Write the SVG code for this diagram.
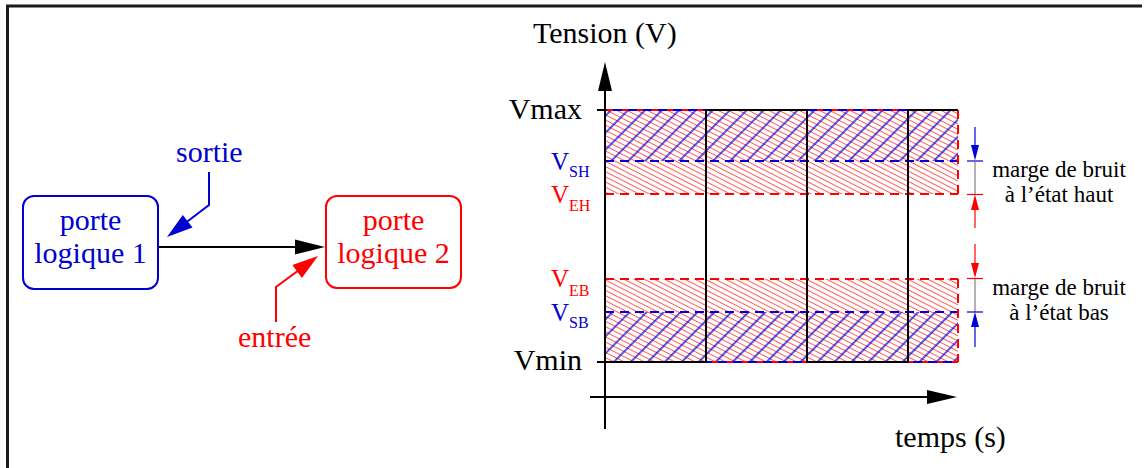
<svg xmlns="http://www.w3.org/2000/svg" width="1145" height="468" viewBox="0 0 1145 468">
<style>
text{font-family:"Liberation Serif","Times New Roman",serif}
.big{font-size:30px}
.note{font-size:23px;fill:#000}
.v{font-size:25px}
.sub{font-size:16px}
.blue{fill:#0000d0}
.red{fill:#ff0000}
.box{fill:#fff;stroke-width:2}
.ln{fill:none;stroke-width:2}
.dr{fill:none;stroke:#ff0000;stroke-width:2;stroke-dasharray:9 6}
.db{fill:none;stroke:#0000dd;stroke-width:2;stroke-dasharray:9 6}
.thin{fill:none;stroke-width:1.2}
</style>
<defs>
<pattern id="hr" patternUnits="userSpaceOnUse" width="20" height="4.6" patternTransform="rotate(27)"><line x1="0" y1="2.3" x2="20" y2="2.3" stroke="#ff5a5a" stroke-width="1"/></pattern>
<pattern id="hb" patternUnits="userSpaceOnUse" width="20" height="12" patternTransform="rotate(-45)"><line x1="0" y1="6" x2="20" y2="6" stroke="#0000dd" stroke-width="1.3"/></pattern>
</defs>

<path d="M7.5,468 V6 H1142" fill="none" stroke="#1a1a1a" stroke-width="3"/>

<g id="porte1">
<rect class="box" x="23" y="196" width="135" height="93" rx="11" stroke="#0000d0"/>
<text class="big blue" x="90.5" y="230" text-anchor="middle">porte</text>
<text class="big blue" x="90.5" y="263" text-anchor="middle">logique 1</text>
</g>
<g id="porte2">
<rect class="box" x="326" y="196" width="135" height="92" rx="11" stroke="#ff0000"/>
<text class="big red" x="393.5" y="230" text-anchor="middle">porte</text>
<text class="big red" x="393.5" y="263" text-anchor="middle">logique 2</text>
</g>
<g id="label-sortie">
<text class="big blue" x="176" y="162">sortie</text>
</g>
<g id="label-entree">
<text class="big red" x="238" y="347">entrée</text>
</g>

<g id="connectors">
<line x1="158" y1="247" x2="296" y2="247" stroke="#000" stroke-width="2"/>
<polygon points="325,247 295,239.5 295,254.5" fill="#000"/>
<polyline class="ln" stroke="#0000d0" points="209,172 209,205 186,222.5"/>
<polygon points="167,237 192.5,227.6 182.8,214.9" fill="#0000d0"/>
<polyline class="ln" stroke="#ff0000" points="276,322 276,287 298,270.7"/>
<polygon points="318,256 301.9,277.9 292.4,265" fill="#ff0000"/>
</g>

<g id="chart">
<rect x="605" y="110" width="353" height="84" fill="url(#hr)"/>
<rect x="605" y="110" width="353" height="51" fill="url(#hb)"/>
<rect x="605" y="279" width="353" height="83" fill="url(#hr)"/>
<rect x="605" y="312" width="353" height="50" fill="url(#hb)"/>
<line class="dr" x1="605" y1="110" x2="958" y2="110"/>
<line class="db" x1="605" y1="110" x2="958" y2="110" stroke-dashoffset="7"/>
<line class="db" x1="605" y1="161" x2="958" y2="161"/>
<line class="dr" x1="605" y1="194" x2="958" y2="194"/>
<line class="dr" x1="958" y1="110" x2="958" y2="194"/>
<line class="dr" x1="605" y1="279" x2="958" y2="279"/>
<line class="db" x1="605" y1="312" x2="958" y2="312"/>
<line class="dr" x1="605" y1="362" x2="958" y2="362"/>
<line class="db" x1="605" y1="362" x2="958" y2="362" stroke-dashoffset="7"/>
<line class="dr" x1="958" y1="279" x2="958" y2="362"/>
<path class="ln" stroke="#000" d="M605,362 H706 V110 H807 V362 H908 V110 H958"/>
<line x1="597" y1="110" x2="605" y2="110" stroke="#000" stroke-width="2"/>
<line x1="597" y1="362" x2="605" y2="362" stroke="#000" stroke-width="2"/>
<line x1="605" y1="90" x2="605" y2="429" stroke="#000" stroke-width="2"/>
<polygon points="605,62 598,91 612,91" fill="#000"/>
<line x1="590" y1="397" x2="928" y2="397" stroke="#000" stroke-width="2"/>
<polygon points="957,397 927,390 927,404" fill="#000"/>
</g>

<g id="axis-labels">
<text class="big" x="533" y="43">Tension (V)</text>
<text class="big" x="895" y="447">temps (s)</text>
<text class="big" x="582" y="119" text-anchor="end">Vmax</text>
<text class="big" x="582" y="370" text-anchor="end">Vmin</text>
<text class="blue"><tspan class="v" x="551" y="170">V</tspan><tspan class="sub" x="569" y="177">SH</tspan></text>
<text class="red"><tspan class="v" x="551" y="203">V</tspan><tspan class="sub" x="569" y="211">EH</tspan></text>
<text class="red"><tspan class="v" x="551" y="287">V</tspan><tspan class="sub" x="569" y="296">EB</tspan></text>
<text class="blue"><tspan class="v" x="551" y="321">V</tspan><tspan class="sub" x="569" y="328">SB</tspan></text>
</g>

<g id="marge-haut">
<line class="thin" stroke="#0000dd" x1="975" y1="127" x2="975" y2="147"/>
<polygon points="975,160.5 971,145 979,145" fill="#0000dd"/>
<line class="thin" stroke="#0000dd" x1="967" y1="161" x2="983" y2="161"/>
<line class="thin" stroke="#808080" x1="975" y1="161" x2="975" y2="194"/>
<line class="thin" stroke="#ff0000" x1="967" y1="194.5" x2="983" y2="194.5"/>
<polygon points="975,194.5 971,210 979,210" fill="#ff0000"/>
<line class="thin" stroke="#ff0000" x1="975" y1="208" x2="975" y2="228"/>
<text class="note" x="1059" y="177" text-anchor="middle">marge de bruit</text>
<text class="note" x="1059" y="202" text-anchor="middle">à l’état haut</text>
</g>
<g id="marge-bas">
<line class="thin" stroke="#ff0000" x1="975" y1="244" x2="975" y2="265"/>
<polygon points="975,278 971,263 979,263" fill="#ff0000"/>
<line class="thin" stroke="#ff0000" x1="967" y1="278.5" x2="983" y2="278.5"/>
<line class="thin" stroke="#808080" x1="975" y1="279" x2="975" y2="312"/>
<line class="thin" stroke="#0000dd" x1="967" y1="312" x2="983" y2="312"/>
<polygon points="975,312 971,327 979,327" fill="#0000dd"/>
<line class="thin" stroke="#0000dd" x1="975" y1="325" x2="975" y2="347"/>
<text class="note" x="1059" y="295" text-anchor="middle">marge de bruit</text>
<text class="note" x="1059" y="320" text-anchor="middle">à l’état bas</text>
</g>
</svg>
